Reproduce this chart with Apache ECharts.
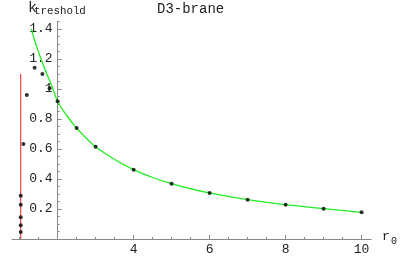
<!DOCTYPE html>
<html>
<head>
<meta charset="utf-8">
<script src="https://cdn.jsdelivr.net/npm/echarts@6/dist/echarts.min.js"></script>
<style>html,body{margin:0;padding:0;background:#fff;}#c{width:415px;height:257px;}</style>
</head>
<body>
<div id="c"></div>
<script>
// Data
const curveR = [1.31, 1.4, 1.5, 1.6, 1.7, 1.8, 1.9, 2, 2.25, 2.5, 2.75, 3, 3.5, 4, 4.5, 5, 5.5, 6, 7, 8, 9, 10];
const curveK = [1.40, 1.32, 1.245, 1.175, 1.11, 1.05, 0.985, 0.918, 0.82, 0.74, 0.673, 0.615, 0.53, 0.462, 0.41, 0.369, 0.335, 0.307, 0.262, 0.229, 0.202, 0.178];
const dotR = [1.03, 1.03, 1.03, 1.03, 1.03, 1.1, 1.19, 1.395, 1.6, 1.79, 2, 2.5, 3, 4, 5, 6, 7, 8, 9, 10];
const dotK = [0.047, 0.091, 0.145, 0.229, 0.289, 0.633, 0.96, 1.142, 1.10, 1.005, 0.918, 0.74, 0.615, 0.462, 0.369, 0.307, 0.262, 0.229, 0.202, 0.178];
const wallR = [1.03, 1.03];
const wallK = [0, 1.1];
const xLabelTicks = [4, 6, 8, 10];
const xMajorTicks = [2, 4, 6, 8, 10];
const xMinorTicks = [1, 1.5, 2.5, 3, 3.5, 4.5, 5, 5.5, 6.5, 7, 7.5, 8.5, 9, 9.5];
const yLabelTicks = [0.2, 0.4, 0.6, 0.8, 1, 1.2, 1.4];
const yMinorTicks = [0.05, 0.1, 0.15, 0.25, 0.3, 0.35, 0.45, 0.5, 0.55, 0.65, 0.7, 0.75, 0.85, 0.9, 0.95, 1.05, 1.1, 1.15, 1.25, 1.3, 1.35, 1.45];

const FONT = '"Liberation Mono", "DejaVu Sans Mono", monospace';
const axisColor = '#8a8a8a';
const xMin = 0.8, xMax = 10.25, yMin = 0, yMax = 1.45;
const gridLeft = 12, gridWidth = 359.1, gridTop = 21.5, gridHeight = 217.5;
const yAxisOffset = -(2 - xMin) * gridWidth / (xMax - xMin);

const chart = echarts.init(document.getElementById('c'), null, {renderer: 'canvas'});
chart.setOption({
  animation: false,
  backgroundColor: '#fff',
  grid: {left: gridLeft, top: gridTop, width: gridWidth, height: gridHeight, containLabel: false},
  xAxis: [{
    type: 'value', min: xMin, max: xMax,
    axisLine: {show: true, onZero: false, lineStyle: {color: axisColor, width: 1}},
    axisTick: {show: true, inside: true, length: 4, customValues: xMajorTicks, lineStyle: {color: axisColor}},
    axisLabel: {show: true, customValues: xLabelTicks, margin: 4, color: '#222', fontFamily: FONT, fontSize: 13},
    splitLine: {show: false}
  }, {
    type: 'value', min: xMin, max: xMax, position: 'bottom',
    axisLine: {show: false},
    axisTick: {show: true, inside: true, length: 2, customValues: xMinorTicks, lineStyle: {color: axisColor}},
    axisLabel: {show: false},
    splitLine: {show: false}
  }],
  yAxis: [{
    type: 'value', min: yMin, max: yMax, offset: yAxisOffset, position: 'left',
    axisLine: {show: true, onZero: false, lineStyle: {color: axisColor, width: 1}},
    axisTick: {show: true, inside: true, length: 4, customValues: yLabelTicks, lineStyle: {color: axisColor}},
    axisLabel: {show: true, customValues: yLabelTicks, margin: 5, color: '#222', fontFamily: FONT, fontSize: 13},
    splitLine: {show: false}
  }, {
    type: 'value', min: yMin, max: yMax, offset: yAxisOffset, position: 'left',
    axisLine: {show: false},
    axisTick: {show: true, inside: true, length: 2, customValues: yMinorTicks, lineStyle: {color: axisColor}},
    axisLabel: {show: false},
    splitLine: {show: false}
  }],
  series: [{
    type: 'line', data: wallR.map((r, i) => [r, wallK[i]]),
    showSymbol: false, lineStyle: {color: '#e02020', width: 1}, z: 2, silent: true
  }, {
    type: 'line', data: curveR.map((r, i) => [r, curveK[i]]), smooth: true,
    showSymbol: false, lineStyle: {color: '#22ee22', width: 1.3}, z: 3, silent: true
  }, {
    type: 'scatter', data: dotR.map((r, i) => [r, dotK[i]]),
    symbolSize: 4, itemStyle: {color: '#000'}, z: 4, silent: true
  }],
  graphic: [
    {type: 'text', left: 28, top: 1, style: {text: 'k', fontFamily: FONT, fontSize: 15, fill: '#222'}},
    {type: 'text', left: 34, top: 6, style: {text: 'treshold', fontFamily: FONT, fontSize: 10.8, fill: '#222'}},
    {type: 'text', left: 157, top: 2, style: {text: 'D3-brane', fontFamily: FONT, fontSize: 14, fill: '#222'}},
    {type: 'text', left: 382, top: 230, style: {text: 'r', fontFamily: FONT, fontSize: 13, fill: '#222'}},
    {type: 'text', left: 391, top: 236, style: {text: '0', fontFamily: FONT, fontSize: 10, fill: '#222'}}
  ]
});
</script>
</body>
</html>
